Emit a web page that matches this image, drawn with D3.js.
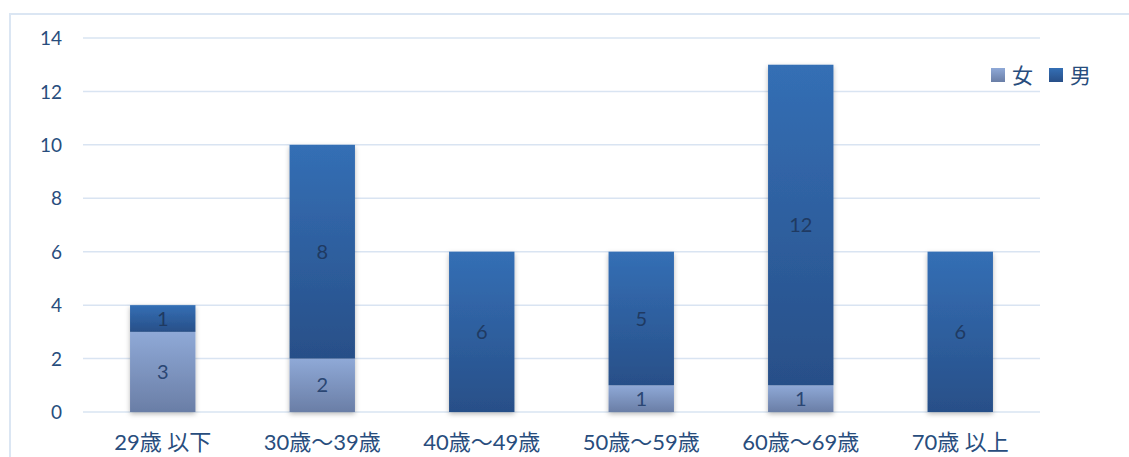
<!DOCTYPE html>
<html>
<head>
<meta charset="utf-8">
<script src="https://cdn.jsdelivr.net/npm/d3@7"></script>
<style>
  html, body { margin: 0; padding: 0; background: #fff; }
  svg { display: block; }
  text { font-family: "Lato", "Noto Sans CJK JP", sans-serif; }
</style>
</head>
<body>
<svg id="chart" width="1129" height="457"></svg>
<script>
// Age groups and counts by sex
const categories = ["29歳 以下", "30歳～39歳", "40歳～49歳", "50歳～59歳", "60歳～69歳", "70歳 以上"];
const female = [3, 2, 0, 1, 1, 0];
const male = [1, 8, 6, 5, 12, 6];
const seriesNames = ["女", "男"];
const yTicks = [0, 2, 4, 6, 8, 10, 12, 14];

const svg = d3.select("#chart");
const W = 1129, H = 457;
const margin = { left: 83, right: 89, top: 38, bottom: 45 };

// Chart frame
svg.append("path")
  .attr("d", `M10,${H} L10,14 L${W},14`)
  .attr("fill", "none")
  .attr("stroke", "#dbe6f3")
  .attr("stroke-width", 2);

const defs = svg.append("defs");
function grad(id, top, bottom) {
  const g = defs.append("linearGradient").attr("id", id)
    .attr("x1", 0).attr("y1", 0).attr("x2", 0).attr("y2", 1);
  g.append("stop").attr("offset", "0%").attr("stop-color", top);
  g.append("stop").attr("offset", "100%").attr("stop-color", bottom);
}
grad("gFemale", "#8fa9d7", "#6a7ea6");
grad("gMale", "#346fb5", "#284f88");

const shadow = defs.append("filter").attr("id", "shadow")
  .attr("x", "-20%").attr("y", "-20%").attr("width", "140%").attr("height", "140%");
shadow.append("feDropShadow")
  .attr("dx", 0).attr("dy", 2).attr("stdDeviation", 2.5)
  .attr("flood-color", "#000").attr("flood-opacity", 0.28);

const x = d3.scaleBand()
  .domain(categories)
  .range([margin.left, W - margin.right])
  .paddingInner(0.59)
  .paddingOuter(0.295);

const y = d3.scaleLinear().domain([0, 14]).range([H - margin.bottom, margin.top]);

// Gridlines
svg.append("g")
  .selectAll("line")
  .data(yTicks)
  .join("line")
  .attr("x1", margin.left)
  .attr("x2", W - margin.right)
  .attr("y1", d => y(d))
  .attr("y2", d => y(d))
  .attr("stroke", "#d9e4f2")
  .attr("stroke-width", 1.5);

// Y axis labels
const yAxis = d3.axisLeft(y).tickValues(yTicks).tickSize(0).tickPadding(0);
const yg = svg.append("g").attr("transform", "translate(62,0)").call(yAxis);
yg.select(".domain").remove();
yg.selectAll("text")
  .attr("fill", "#284d7d")
  .attr("font-size", 19)
  .attr("dy", "0.35em");

// X axis labels
const xAxis = d3.axisBottom(x).tickSize(0).tickPadding(0);
const xg = svg.append("g").attr("transform", `translate(0,${y(0) + 30})`).call(xAxis);
xg.select(".domain").remove();
xg.selectAll("text")
  .attr("fill", "#284d7d")
  .attr("font-size", 22)
  .attr("dy", "0.35em")
  .style("white-space", "pre");

// Stacked bars
const rows = categories.map((c, i) => ({ cat: c, 女: female[i], 男: male[i] }));
const stacked = d3.stack().keys(seriesNames)(rows);
const fills = { "女": "url(#gFemale)", "男": "url(#gMale)" };

svg.append("g").attr("filter", "url(#shadow)")
  .selectAll("g")
  .data(stacked)
  .join("g")
  .attr("fill", d => fills[d.key])
  .selectAll("rect")
  .data(d => d.filter(s => s[1] - s[0] > 0))
  .join("rect")
  .attr("x", d => x(d.data.cat))
  .attr("width", x.bandwidth())
  .attr("y", d => y(d[1]))
  .attr("height", d => y(d[0]) - y(d[1]));

// Value labels
stacked.forEach(layer => {
  svg.append("g")
    .selectAll("text")
    .data(layer.filter(s => s[1] - s[0] > 0))
    .join("text")
    .attr("x", d => x(d.data.cat) + x.bandwidth() / 2)
    .attr("y", d => (y(d[0]) + y(d[1])) / 2)
    .attr("dy", "0.35em")
    .attr("text-anchor", "middle")
    .attr("font-size", 20)
    .attr("fill", layer.key === "男" ? "#1f3a62" : "#2a4673")
    .text(d => d[1] - d[0]);
});

// Legend
const legend = svg.append("g").attr("transform", "translate(991,68)");
const legendX = [0, 58];
seriesNames.forEach((name, i) => {
  const g = legend.append("g").attr("transform", `translate(${legendX[i]},0)`);
  g.append("rect").attr("width", 14).attr("height", 14).attr("fill", fills[name]);
  g.append("text")
    .attr("x", 21).attr("y", 7).attr("dy", "0.38em")
    .attr("font-size", 21)
    .attr("fill", "#284d7d")
    .text(name);
});
</script>
</body>
</html>
